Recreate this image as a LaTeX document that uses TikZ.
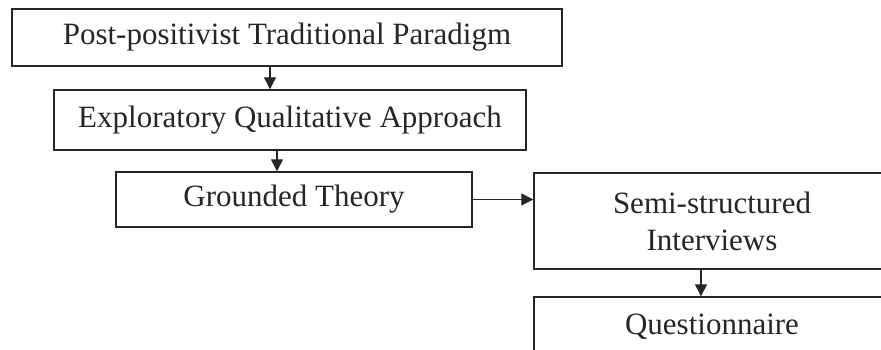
\documentclass[tikz,border=0pt]{standalone}
\usepackage{fontspec}
\setmainfont{Liberation Serif}
\usetikzlibrary{arrows.meta}
\definecolor{ink}{HTML}{262626}

\begin{document}
\begin{tikzpicture}[x=1pt,y=-1pt,
	stage/.style={draw=ink, line width=1.4pt, inner sep=0pt, text=ink,
		font=\fontsize{31}{37}\selectfont, align=center},
	flow/.style={draw=ink, line width=1.2pt, -{Triangle[width=12pt,length=12pt]}}]
\useasboundingbox (0,0) rectangle (881,349);
\clip (0,0) rectangle (881,349);

% research design chain
\node[stage, minimum width=550pt, minimum height=57pt] (paradigm) at (287,37.5) {Post-positivist Traditional Paradigm};
\node[stage, minimum width=472pt, minimum height=60pt] (approach) at (290,120) {Exploratory Qualitative Approach};
\node[stage, minimum width=356pt, minimum height=55pt] (theory) at (294,199.5) {Grounded Theory};
\node[stage, minimum width=356pt, minimum height=96pt] (interviews) at (712,221) {Semi-structured\\Interviews};
\node[stage, minimum width=356pt, minimum height=66pt] (survey) at (712,330) {};
\node[text=ink, font=\fontsize{31}{37}\selectfont] (surveytext) at (712,327) {Questionnaire};

% arrow columns
\coordinate (c1) at (270,0);
\coordinate (c2) at (277,0);
\coordinate (c3) at (701,0);

\draw[flow] (paradigm.south -| c1) -- (approach.north -| c1);
\draw[flow] (approach.south -| c2) -- (theory.north -| c2);
\draw[flow] (theory.east) -- (theory.east -| interviews.west);
\draw[flow] (interviews.south -| c3) -- (survey.north -| c3);
\end{tikzpicture}
\end{document}
